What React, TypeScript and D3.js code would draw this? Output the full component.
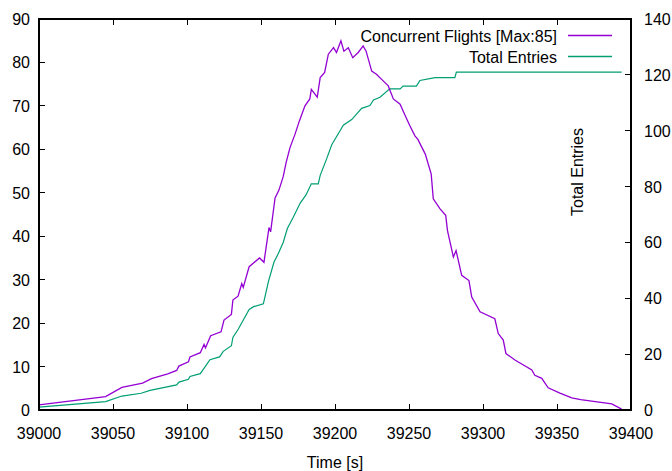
import React from 'react'
import * as d3 from 'd3'

// Concurrent flights (left axis), time offset from 39000 s
const flightTimes = [0, 45, 56, 70, 76, 87, 93, 94.5, 101, 102, 109, 111.5, 112.5, 116, 123, 125, 130, 131, 134.5, 137, 138, 142, 149, 152, 155.4, 156.5, 159.5, 162, 165, 167, 169.6, 173, 176, 179.7, 183, 184, 188, 190, 193, 195.5, 199, 201, 204, 206, 209, 212, 215.7, 219, 221, 224.8, 228, 231.5, 236, 239.4, 244, 247, 250.5, 254, 256, 261, 265, 266.4, 271, 274.8, 276, 280, 281.8, 285.6, 290.5, 292.4, 298, 308, 310.3, 313.7, 315.5, 321.6, 333, 335, 339.7, 344, 352, 360, 366, 387, 393.7]
const flightCounts = [1.2, 3.1, 5.2, 6.2, 7.2, 8.3, 9.1, 10.1, 11.1, 12.2, 13.2, 15.1, 14.3, 17.1, 18, 20.7, 22, 25.3, 26.2, 29.1, 28.2, 33, 35, 34, 42, 41, 48.8, 50.5, 53.7, 57, 60.4, 63.5, 66.6, 70, 71.6, 73.8, 72, 76.5, 77.7, 81.9, 83.4, 82.3, 85, 82.6, 83.4, 81.1, 82.3, 83.8, 82.6, 78, 77.3, 76.1, 74.6, 71.6, 70.4, 68.1, 65.5, 63.1, 62.3, 58.9, 54.3, 48.6, 46.3, 44.8, 41.3, 35.2, 36.7, 31, 29.8, 26, 22.6, 21, 17.6, 16.1, 13, 11.5, 9.2, 8, 7.3, 5.1, 3.9, 2.8, 2.4, 1.4, 0.2]

// Total entries (right axis)
const entryTimes = [0, 45, 56, 69, 75, 93, 94.6, 101, 102, 109, 115.5, 122, 124.5, 130, 131, 134.7, 142, 145, 151.6, 155, 158.8, 161.7, 165, 167.8, 171.8, 176.4, 180.4, 184, 188.7, 190, 194.4, 197.8, 203.4, 205.6, 211.3, 214.7, 218, 223.6, 226, 230.4, 237, 244, 246, 255, 257.4, 267.6, 281, 282, 393.7]
const entryCounts = [1, 3, 5, 6, 7, 9, 10, 11, 12, 13, 18, 19, 21, 23, 26, 29, 36, 37, 38, 46, 53, 56, 60, 65, 69, 74, 77, 81, 81, 84, 90, 95, 100, 102, 104, 106, 108, 109, 111, 112, 115, 115, 116, 116, 118, 119, 119, 121, 121]

const xTicks = [39000, 39050, 39100, 39150, 39200, 39250, 39300, 39350, 39400]
const yTicks = [0, 10, 20, 30, 40, 50, 60, 70, 80, 90]
const y2Ticks = [0, 20, 40, 60, 80, 100, 120, 140]

const seriesNames = ['Concurrent Flights [Max:85]', 'Total Entries']
const colors = ['#9400d3', '#009e73']

const W = 672
const H = 471
const left = 39, right = 631, top = 19, bottom = 410
const font = '"Liberation Sans", Arial, sans-serif'

export default function App() {
  const x = d3.scaleLinear().domain([39000, 39400]).range([left, right])
  const y = d3.scaleLinear().domain([0, 90]).range([bottom, top])
  const y2 = d3.scaleLinear().domain([0, 140]).range([bottom, top])

  const flights = flightTimes.map((t, i) => [39000 + t, flightCounts[i]])
  const entries = entryTimes.map((t, i) => [39000 + t, entryCounts[i]])

  const line1 = d3.line<number[]>().x(d => x(d[0])).y(d => y(d[1]))
  const line2 = d3.line<number[]>().x(d => x(d[0])).y(d => y2(d[1]))

  const tk = 6

  return (
    <>
      <style>{'body{margin:0}'}</style>
      <svg width={W} height={H} style={{ display: 'block', background: '#fff' }} fontFamily={font} fontSize={16}>
        <path d={line2(entries) || ''} fill="none" stroke={colors[1]} strokeWidth={1.2} />
        <path d={line1(flights) || ''} fill="none" stroke={colors[0]} strokeWidth={1.3} />

        <g stroke="#000" strokeWidth={1} shapeRendering="crispEdges">
          {xTicks.map(t => (
            <g key={'x' + t}>
              <line x1={x(t)} x2={x(t)} y1={bottom} y2={bottom - tk} />
              <line x1={x(t)} x2={x(t)} y1={top} y2={top + tk} />
            </g>
          ))}
          {yTicks.map(t => (
            <line key={'y' + t} x1={left} x2={left + tk} y1={y(t)} y2={y(t)} />
          ))}
          {y2Ticks.map(t => (
            <line key={'y2' + t} x1={right} x2={right - tk} y1={y2(t)} y2={y2(t)} />
          ))}
          <rect x={left} y={top} width={right - left} height={bottom - top} fill="none" strokeWidth={1.2} />
        </g>

        <g fill="#000">
          {xTicks.map(t => (
            <text key={'xl' + t} x={x(t)} y={439} textAnchor="middle">{t}</text>
          ))}
          {yTicks.map(t => (
            <text key={'yl' + t} x={30} y={y(t) + 6} textAnchor="end">{t}</text>
          ))}
          {y2Ticks.map(t => (
            <text key={'y2l' + t} x={644} y={y2(t) + 6} textAnchor="start">{t}</text>
          ))}
          <text x={(left + right) / 2} y={468} textAnchor="middle">Time [s]</text>
          <text transform={`translate(583,172) rotate(-90)`} textAnchor="middle">Total Entries</text>
        </g>

        <g>
          {seriesNames.map((name, i) => (
            <g key={name} transform={`translate(0,${i * 21})`}>
              <text x={557} y={41.5} textAnchor="end" fill="#000">{name}</text>
              <line x1={568} x2={612} y1={35.5} y2={35.5} stroke={colors[i]} strokeWidth={1.3} />
            </g>
          ))}
        </g>
      </svg>
    </>
  )
}
